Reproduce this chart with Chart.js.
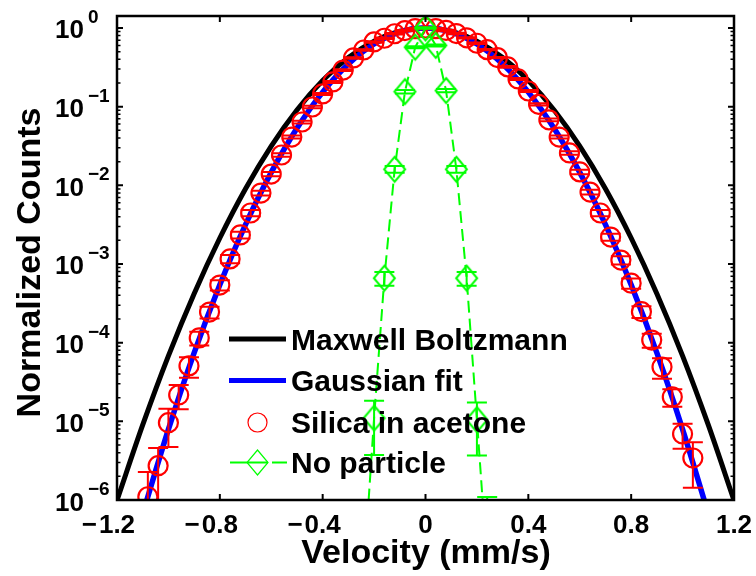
<!DOCTYPE html>
<html>
<head>
<meta charset="utf-8">
<script src="https://cdn.jsdelivr.net/npm/chart.js@4.4.0/dist/chart.umd.min.js"></script>
<style>
  body { margin: 0; background: #fff; }
  canvas { display: block; }
</style>
</head>
<body>
<canvas id="myChart" width="756" height="576"></canvas>
<script>
const FONT = '"Liberation Sans", Arial, Helvetica, sans-serif';

// Silica in acetone (histogram, normalized), relative error bars
const silicaV = [-1.08, -1.04, -1.00, -0.96, -0.92, -0.88, -0.84, -0.80, -0.76, -0.72,
  -0.68, -0.64, -0.60, -0.56, -0.52, -0.48, -0.44, -0.40, -0.36, -0.32,
  -0.28, -0.24, -0.20, -0.16, -0.12, -0.08, -0.04, 0, 0.04, 0.08,
  0.12, 0.16, 0.20, 0.24, 0.28, 0.32, 0.36, 0.40, 0.44, 0.48,
  0.52, 0.56, 0.60, 0.64, 0.68, 0.72, 0.76, 0.80, 0.84, 0.88,
  0.92, 0.96, 1.00, 1.04];
const silicaCounts = [1.10e-6, 2.73e-6, 9.6e-6, 2.16e-5, 5.06e-5, 1.15e-4, 2.45e-4, 5.4e-4, 1.16e-3, 2.34e-3,
  4.45e-3, 7.98e-3, 1.39e-2, 2.43e-2, 4.11e-2, 6.38e-2, 9.9e-2, 0.145, 0.206, 0.292,
  0.416, 0.525, 0.664, 0.74, 0.845, 0.927, 0.98, 1.0, 0.98, 0.93,
  0.85, 0.75, 0.64, 0.53, 0.42, 0.32, 0.225, 0.158, 0.107, 0.068,
  0.0411, 0.0258, 0.0148, 8.2e-3, 4.45e-3, 2.2e-3, 1.12e-3, 5.7e-4, 2.48e-4, 1.08e-4,
  4.9e-5, 2.04e-5, 6.9e-6, 3.42e-6];
const silicaErr = [1.07, 0.68, 0.51, 0.34, 0.29, 0.2, 0.17, 0.15, 0.12, 0.1,
  0.09, 0.07, 0.065, 0.05, 0.045, 0.04, 0.035, 0.03, 0.03, 0.025,
  0.02, 0.02, 0.02, 0.02, 0.02, 0.02, 0.02, 0.02, 0.02, 0.02,
  0.02, 0.02, 0.02, 0.02, 0.02, 0.025, 0.03, 0.03, 0.035, 0.04,
  0.045, 0.05, 0.065, 0.07, 0.09, 0.1, 0.12, 0.15, 0.17, 0.2,
  0.29, 0.25, 0.35, 0.58];

// No particle
const noParticleV = [-0.24, -0.20, -0.16, -0.12, -0.08, -0.04, 0, 0.04, 0.08, 0.12, 0.16, 0.20, 0.24];
const noParticleCounts = [1.2e-7, 1.1e-5, 6.6e-4, 1.6e-2, 0.155, 0.57, 1.0, 0.60, 0.16, 1.6e-2, 6.6e-4, 1.05e-5, 1.5e-7];
const noParticleErr = [5, 0.66, 0.2, 0.1, 0.05, 0.03, 0.02, 0.03, 0.05, 0.1, 0.2, 0.65, 6.3];

// Maxwell Boltzmann curve
const maxwellV = [-1.2, -1.1, -1.0, -0.9, -0.8, -0.7, -0.6, -0.5, -0.4, -0.3, -0.2, -0.1, 0,
  0.1, 0.2, 0.3, 0.4, 0.5, 0.6, 0.7, 0.8, 0.9, 1.0, 1.1, 1.2];
const maxwellCounts = [9.9e-7, 9.0e-6, 6.8e-5, 4.2e-4, 2.14e-3, 9.05e-3, 3.15e-2, 9.06e-2, 0.215, 0.421, 0.681, 0.908, 1,
  0.908, 0.681, 0.421, 0.215, 9.06e-2, 3.15e-2, 9.05e-3, 2.14e-3, 4.2e-4, 6.8e-5, 9.0e-6, 9.9e-7];

// Gaussian fit
const gaussV = [-1.1, -1.0, -0.9, -0.8, -0.7, -0.6, -0.5, -0.4, -0.3, -0.2, -0.1, 0,
  0.1, 0.2, 0.3, 0.4, 0.5, 0.6, 0.7, 0.8, 0.9, 1.0, 1.1];
const gaussCounts = [6.7e-7, 7.9e-6, 7.4e-5, 5.45e-4, 3.17e-3, 1.46e-2, 5.31e-2, 0.153, 0.348, 0.625, 0.889, 1,
  0.889, 0.625, 0.348, 0.153, 5.31e-2, 1.46e-2, 3.17e-3, 5.45e-4, 7.4e-5, 7.9e-6, 6.7e-7];

const xTicks = [-1.2, -0.8, -0.4, 0, 0.4, 0.8, 1.2];
const xTickLabels = ['−1.2', '−0.8', '−0.4', '0', '0.4', '0.8', '1.2'];
const yTicks = [1e-6, 1e-5, 1e-4, 1e-3, 1e-2, 1e-1, 1];
const yTickExp = ['−6', '−5', '−4', '−3', '−2', '−1', '0'];
const legendLabels = ['Maxwell Boltzmann', 'Gaussian fit', 'Silica in acetone', 'No particle'];

function pts(xs, ys) { return xs.map((v, i) => ({x: v, y: ys[i]})); }

function diamondPath(g, cx, cy, hw, hh) {
  g.beginPath();
  g.moveTo(cx, cy - hh); g.lineTo(cx + hw, cy); g.lineTo(cx, cy + hh); g.lineTo(cx - hw, cy);
  g.closePath();
}

const diamond = document.createElement('canvas');
diamond.width = 25; diamond.height = 29;
(function () {
  const g = diamond.getContext('2d');
  g.strokeStyle = '#00ff00'; g.lineWidth = 2;
  diamondPath(g, 12.5, 14.5, 10.5, 12.5);
  g.stroke();
})();

// vertical error bars with caps
const errorBars = {
  id: 'errorBars',
  afterDatasetDraw(chart, args) {
    const ds = chart.data.datasets[args.index];
    if (!ds.errRel) return;
    const {ctx, chartArea: a, scales: {x, y}} = chart;
    ctx.save();
    ctx.beginPath(); ctx.rect(a.left, a.top, a.right - a.left, a.bottom - a.top); ctx.clip();
    ctx.strokeStyle = ds.errColor; ctx.lineWidth = 2; ctx.setLineDash([]);
    ds.data.forEach((p, i) => {
      const r = ds.errRel[i];
      const px = x.getPixelForValue(p.x);
      const hi = y.getPixelForValue(p.y * (1 + r));
      const loV = p.y * (1 - r);
      const lo = loV > 0 ? y.getPixelForValue(loV) : a.bottom + 50;
      ctx.beginPath();
      ctx.moveTo(px, hi); ctx.lineTo(px, lo);
      ctx.moveTo(px - 10, hi); ctx.lineTo(px + 10, hi);
      if (loV > 0) { ctx.moveTo(px - 10, lo); ctx.lineTo(px + 10, lo); }
      ctx.stroke();
    });
    ctx.restore();
  }
};

// matlab style box, inward ticks, labels, titles and legend
const axesBox = {
  id: 'axesBox',
  afterDraw(chart) {
    const {ctx, chartArea: a, scales: {x, y}} = chart;
    ctx.save();
    ctx.strokeStyle = '#000';
    ctx.lineWidth = 2;
    ctx.beginPath();
    xTicks.forEach(v => {
      const px = x.getPixelForValue(v);
      ctx.moveTo(px, a.bottom); ctx.lineTo(px, a.bottom - 6);
      ctx.moveTo(px, a.top); ctx.lineTo(px, a.top + 6);
    });
    yTicks.forEach(v => {
      const py = y.getPixelForValue(v);
      ctx.moveTo(a.left, py); ctx.lineTo(a.left + 6, py);
      ctx.moveTo(a.right, py); ctx.lineTo(a.right - 6, py);
    });
    ctx.stroke();
    ctx.lineWidth = 1.5;
    ctx.beginPath();
    yTicks.forEach(d => {
      for (let m = 2; m <= 9; m++) {
        const v = m * d;
        if (v > y.max) break;
        const py = y.getPixelForValue(v);
        ctx.moveTo(a.left, py); ctx.lineTo(a.left + 3.5, py);
        ctx.moveTo(a.right, py); ctx.lineTo(a.right - 3.5, py);
      }
    });
    ctx.stroke();
    ctx.lineWidth = 2.5;
    ctx.strokeRect(a.left, a.top, a.right - a.left, a.bottom - a.top);

    ctx.fillStyle = '#000';
    ctx.textBaseline = 'alphabetic';
    // x tick labels: number centred on tick, minus hanging left
    ctx.font = 'bold 26px ' + FONT;
    xTickLabels.forEach((lab, i) => {
      const px = x.getPixelForValue(xTicks[i]);
      const neg = lab.startsWith('−');
      const num = neg ? lab.slice(1) : lab;
      const w = ctx.measureText(num).width;
      ctx.textAlign = 'center';
      ctx.fillText(num, px, 533);
      if (neg) { ctx.textAlign = 'right'; ctx.fillText('−', px - w / 2 - 2, 533); }
    });
    // y tick labels 10^n
    yTicks.forEach((v, i) => {
      const py = y.getPixelForValue(v);
      ctx.textAlign = 'left';
      ctx.font = 'bold 26px ' + FONT;
      ctx.fillText('10', 55, py + 10.5);
      ctx.font = 'bold 19px ' + FONT;
      ctx.fillText(yTickExp[i], 88, py - 5);
    });
    // axis titles
    ctx.font = 'bold 34px ' + FONT;
    ctx.textAlign = 'center';
    ctx.fillText('Velocity (mm/s)', 426, 563);
    ctx.save();
    ctx.translate(40, 262.5);
    ctx.rotate(-Math.PI / 2);
    ctx.fillText('Normalized Counts', 0, 0);
    ctx.restore();

    // legend
    const rows = [339, 380.5, 422.5, 462.5];
    ctx.lineCap = 'butt';
    ctx.lineWidth = 5;
    ctx.strokeStyle = '#000';
    ctx.beginPath(); ctx.moveTo(229, rows[0]); ctx.lineTo(286, rows[0]); ctx.stroke();
    ctx.strokeStyle = '#0000ff';
    ctx.beginPath(); ctx.moveTo(229, rows[1]); ctx.lineTo(286, rows[1]); ctx.stroke();
    ctx.lineWidth = 1.2;
    ctx.strokeStyle = '#ff0000';
    ctx.beginPath(); ctx.arc(257.5, rows[2], 9.5, 0, Math.PI * 2); ctx.stroke();
    ctx.strokeStyle = '#00ff00';
    ctx.lineWidth = 2;
    ctx.beginPath();
    ctx.moveTo(230, rows[3]); ctx.lineTo(247, rows[3]);
    ctx.moveTo(272, rows[3]); ctx.lineTo(287, rows[3]);
    ctx.moveTo(247, rows[3]); ctx.lineTo(268, rows[3]);
    ctx.stroke();
    ctx.lineWidth = 1.2;
    diamondPath(ctx, 257.5, rows[3], 10.5, 12.5);
    ctx.stroke();
    ctx.font = 'bold 30px ' + FONT;
    ctx.textAlign = 'left';
    legendLabels.forEach((t, i) => ctx.fillText(t, 291, rows[i] + 10.5));
    ctx.restore();
  }
};

const config = {
  type: 'line',
  data: {
    datasets: [{
      label: legendLabels[3],
      data: pts(noParticleV, noParticleCounts),
      borderColor: '#00ff00',
      borderWidth: 2,
      borderDash: [12, 6],
      pointStyle: diamond,
      pointRadius: 12,
      tension: 0,
      errRel: noParticleErr,
      errColor: '#00ff00',
      order: 0
    }, {
      label: legendLabels[2],
      data: pts(silicaV, silicaCounts),
      showLine: false,
      pointStyle: 'circle',
      pointRadius: 9.5,
      pointBorderWidth: 2.2,
      pointBorderColor: '#ff0000',
      pointBackgroundColor: 'rgba(0,0,0,0)',
      errRel: silicaErr,
      errColor: '#ff0000',
      order: 1
    }, {
      label: legendLabels[1],
      data: pts(gaussV, gaussCounts),
      borderColor: '#0000ff',
      borderWidth: 5.5,
      pointRadius: 0,
      cubicInterpolationMode: 'monotone',
      order: 2
    }, {
      label: legendLabels[0],
      data: pts(maxwellV, maxwellCounts),
      borderColor: '#000000',
      borderWidth: 5,
      pointRadius: 0,
      cubicInterpolationMode: 'monotone',
      order: 3
    }]
  },
  options: {
    responsive: false,
    animation: false,
    events: [],
    devicePixelRatio: 1,
    layout: { autoPadding: false, padding: { top: 16, right: 22, left: 0, bottom: 0 } },
    plugins: { legend: { display: false }, tooltip: { enabled: false } },
    scales: {
      x: {
        type: 'linear', min: -1.2, max: 1.2,
        grid: { display: false }, border: { display: false }, ticks: { display: false },
        afterFit(s) { s.height = 76; }
      },
      y: {
        type: 'logarithmic', min: 1e-6, max: 1.42,
        grid: { display: false }, border: { display: false }, ticks: { display: false },
        afterFit(s) { s.width = 117; }
      }
    }
  },
  plugins: [errorBars, axesBox]
};

const myChart = new Chart(document.getElementById('myChart'), config);
</script>
</body>
</html>
